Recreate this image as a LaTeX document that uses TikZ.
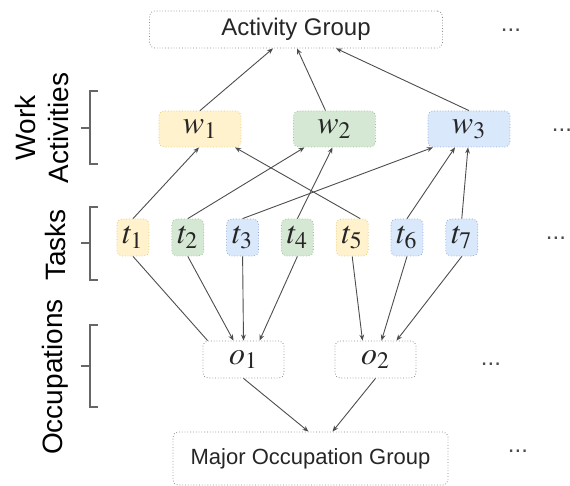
\documentclass[tikz,border=0pt]{standalone}
\usepackage[no-math]{fontspec}
\usepackage{mathptmx}
\usetikzlibrary{arrows.meta,calc,positioning}
\newfontfamily\labelfont{Liberation Sans}
\definecolor{yelfill}{HTML}{FFF2CC}
\definecolor{yeldraw}{HTML}{E0C97A}
\definecolor{grnfill}{HTML}{D5E8D4}
\definecolor{grndraw}{HTML}{9CC49A}
\definecolor{blufill}{HTML}{DAE8FC}
\definecolor{bludraw}{HTML}{8EAAD6}
\definecolor{linegray}{HTML}{4D4D4D}
\tikzset{
  cell/.style={rounded corners=2.5pt,densely dotted,line width=0.4pt,inner sep=0pt,text=black!85,
    font=\fontsize{16}{18}\selectfont},
  grpbox/.style={cell,draw=black!45,fill=white,font=\labelfont\fontsize{12}{14}\selectfont},
  occbox/.style={cell,draw=black!45,fill=white,minimum width=40.5pt,minimum height=18.5pt},
  workbox/.style={cell,minimum width=41pt,minimum height=18pt},
  taskbox/.style={cell,minimum width=16pt,minimum height=18.5pt},
  yel/.style={fill=yelfill,draw=yeldraw},
  grn/.style={fill=grnfill,draw=grndraw},
  blu/.style={fill=blufill,draw=bludraw},
  conn/.style={draw=linegray,line width=0.45pt,-{Stealth[length=3pt,width=2.4pt]}},
  moredots/.style={inner sep=0pt,text=black!70,font=\labelfont\fontsize{12}{14}\selectfont},
  sidelabel/.style={rotate=90,align=center,inner sep=0pt,font=\labelfont\fontsize{14}{16.5}\selectfont},
  bracket/.style={draw=black!60,line width=0.6pt}
}
\begin{document}
\begin{tikzpicture}[x=0.5pt,y=-0.5pt]
\useasboundingbox (0,0) rectangle (570,486);
%Gruppen oben und unten
\node[grpbox,minimum width=146.5pt,minimum height=18.5pt] (ag) at (296,29.5) {Activity Group};
\node[grpbox,minimum width=137.5pt,minimum height=26.5pt,font=\labelfont\fontsize{11}{13}\selectfont] (mog) at (310.5,458.5) {Major Occupation Group};
%Arbeitsaktivitaeten
\node[workbox,yel] (w1) at (200,129) {$w_1$};
\node[workbox,grn] (w2) at (334.5,129) {$w_2$};
\node[workbox,blu] (w3) at (469,129) {$w_3$};
%Aufgaben, Abstand 54.8
\foreach \i/\c in {1/yel,2/grn,3/blu,4/grn,5/yel,6/blu,7/blu}{
  \node[taskbox,\c] (t\i) at ({133+(\i-1)*54.8},237.5) {$t_{\i}$};
}
%Berufe
\node[occbox] (o1) at (243.5,359.5) {$o_1$};
\node[occbox] (o2) at (375.5,359.5) {$o_2$};
%Punkte rechts
\node[moredots] (agdots) at (511,30) {...};
\node[moredots] (wdots) at (562,130) {...};
\node[moredots] (tdots) at (556,238) {...};
\node[moredots] (odots) at (491,364) {...};
\node[moredots] (mogdots) at (518,451) {...};
%Beschriftung links mit Klammern
\node[sidelabel] (wlab) at (41.5,128) {Work\\Activities};
\node[sidelabel] (tlab) at (55,245) {Tasks};
\node[sidelabel] (olab) at (55,377) {Occupations};
\foreach \ya/\yb/\ym in {91/164/128,207/280/243,325/407/366}{
  \draw[bracket] (98,\ya) -- (90,\ya) -- (90,\yb) -- (98,\yb);
  \draw[bracket] (81,\ym) -- (90,\ym);
}
%Pfeile nach oben
\draw[conn] (w1.north) -- ($(ag.south)+(-23,0)$);
\draw[conn] ($(w2.north)+(-9,0)$) -- ($(ag.south)+(1,0)$);
\draw[conn] (w3.north) -- ($(ag.south)+(40,0)$);
\draw[conn] (t1.north) -- ($(w1.south)+(-1,0)$);
\draw[conn] (t2.north) -- ($(w2.south)+(-30,0)$);
\draw[conn] (t3.north) -- ($(w3.south)+(-36,0)$);
\draw[conn] (t4.north) -- ($(w2.south)+(-2,0)$);
\draw[conn] ($(t5.north)+(8,0)$) -- ($(w1.south)+(35,0)$);
\draw[conn] (t6.north) -- ($(w3.south)+(-14,0)$);
\draw[conn] (t7.north) -- ($(w3.south)+(-1,0)$);
%Pfeile nach unten
\draw[conn,-] (t1.south) -- ($(o1.north west)+(5,0)$);
\draw[conn] (t2.south) -- ($(o1.north)+(-10,0)$);
\draw[conn] (t3.south) -- (o1.north);
\draw[conn] (t4.south) -- ($(o1.north)+(16,0)$);
\draw[conn] (t5.south) -- ($(o2.north)+(-13,0)$);
\draw[conn] (t6.south) -- ($(o2.north)+(6,0)$);
\draw[conn] (t7.south) -- ($(o2.north)+(21,0)$);
\draw[conn] (o1.south) -- ($(mog.north)+(-2,0)$);
\draw[conn] (o2.south) -- ($(mog.north)+(22,0)$);
\end{tikzpicture}
\end{document}
